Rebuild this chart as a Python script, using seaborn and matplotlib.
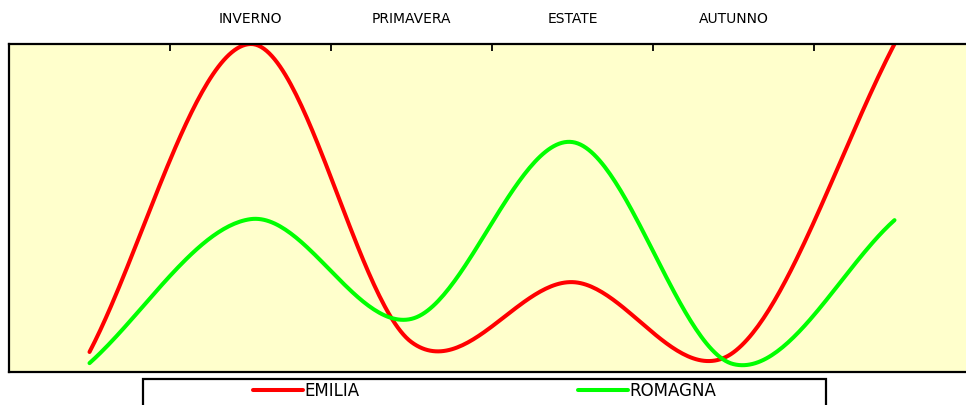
# Seasonal chart: EMILIA vs ROMAGNA (smoothed lines)
import numpy as np
import pandas as pd
import matplotlib
matplotlib.use("Agg")
import matplotlib.pyplot as plt
from matplotlib.patches import Rectangle
from matplotlib.lines import Line2D
import seaborn as sns

# Data
seasons = ["", "INVERNO", "PRIMAVERA", "ESTATE", "AUTUNNO", ""]
emilia = [6.1, 100, 9.1, 27.4, 6.0, 100]
romagna = [2.7, 46.6, 16.2, 70.1, 2.4, 46.3]

series_names = ["EMILIA", "ROMAGNA"]
series_colors = ["#FF0000", "#00FF00"]


# smoothed line like the spreadsheet one (catmull-rom through the points,
# ends extended linearly so the first/last pieces stay fairly straight)
def smooth(values, n=60):
    y = np.asarray(values, dtype=float)
    pts = np.concatenate([[2 * y[0] - y[1]], y, [2 * y[-1] - y[-2]]])
    xs, ys = [], []
    for i in range(len(y) - 1):
        p0, p1, p2, p3 = pts[i], pts[i + 1], pts[i + 2], pts[i + 3]
        m1 = (p2 - p0) / 2
        m2 = (p3 - p1) / 2
        t = np.linspace(0, 1, n, endpoint=(i == len(y) - 2))
        h00 = 2 * t**3 - 3 * t**2 + 1
        h10 = t**3 - 2 * t**2 + t
        h01 = -2 * t**3 + 3 * t**2
        h11 = t**3 - t**2
        xs.append(i + t)
        ys.append(h00 * p1 + h10 * m1 + h01 * p2 + h11 * m2)
    return np.concatenate(xs), np.concatenate(ys)


frames = []
for name, vals in zip(series_names, [emilia, romagna]):
    sx, sy = smooth(vals)
    frames.append(pd.DataFrame({"x": sx, "y": sy, "serie": name}))
df = pd.concat(frames, ignore_index=True)

sns.set_style("white")
plt.rcParams["font.family"] = ["DejaVu Sans"]

fig = plt.figure(figsize=(9.66, 4.05), dpi=100)
ax = fig.add_axes([9 / 966, 33 / 405, 1.0, 328 / 405])
ax.set_facecolor("#FFFFCC")

sns.lineplot(data=df, x="x", y="y", hue="serie", palette=series_colors,
             sort=False, estimator=None, linewidth=2.9, legend=False, ax=ax)

ax.set_xlim(-0.5, len(seasons) - 0.5)
ax.set_ylim(0, 100)
ax.set_xlabel("")
ax.set_ylabel("")
ax.set_yticks([])

# labels on top, centred on the categories; tick marks between them
ax.xaxis.tick_top()
ax.set_xticks(range(len(seasons)))
ax.set_xticklabels(seasons, fontsize=10, color="black")
ax.set_xticks(np.arange(0.5, len(seasons) - 0.5), minor=True)
ax.tick_params(axis="x", which="major", length=0, pad=13, top=True, bottom=False)
ax.tick_params(axis="x", which="minor", length=5, width=1.3, direction="in",
               top=True, bottom=False, color="black")

for side in ["left", "top", "bottom"]:
    ax.spines[side].set_color("black")
    ax.spines[side].set_linewidth(1.6)
ax.spines["right"].set_visible(False)

# legend box under the chart
fig.add_artist(Rectangle((143 / 966, -0.05), (826 - 143) / 966, (405 - 379) / 405 + 0.05,
                         transform=fig.transFigure, facecolor="white",
                         edgecolor="black", linewidth=1.6))
for name, col, x0 in zip(series_names, series_colors, [253, 578]):
    fig.legend(handles=[Line2D([], [], color=col, linewidth=2.9)], labels=[name],
               loc="center left", bbox_to_anchor=(x0 / 966, (405 - 391) / 405),
               frameon=False, fontsize=12, handlelength=3.0, handletextpad=0.1,
               borderaxespad=0, borderpad=0, labelcolor="black")

fig.savefig("out.png", dpi=100)
